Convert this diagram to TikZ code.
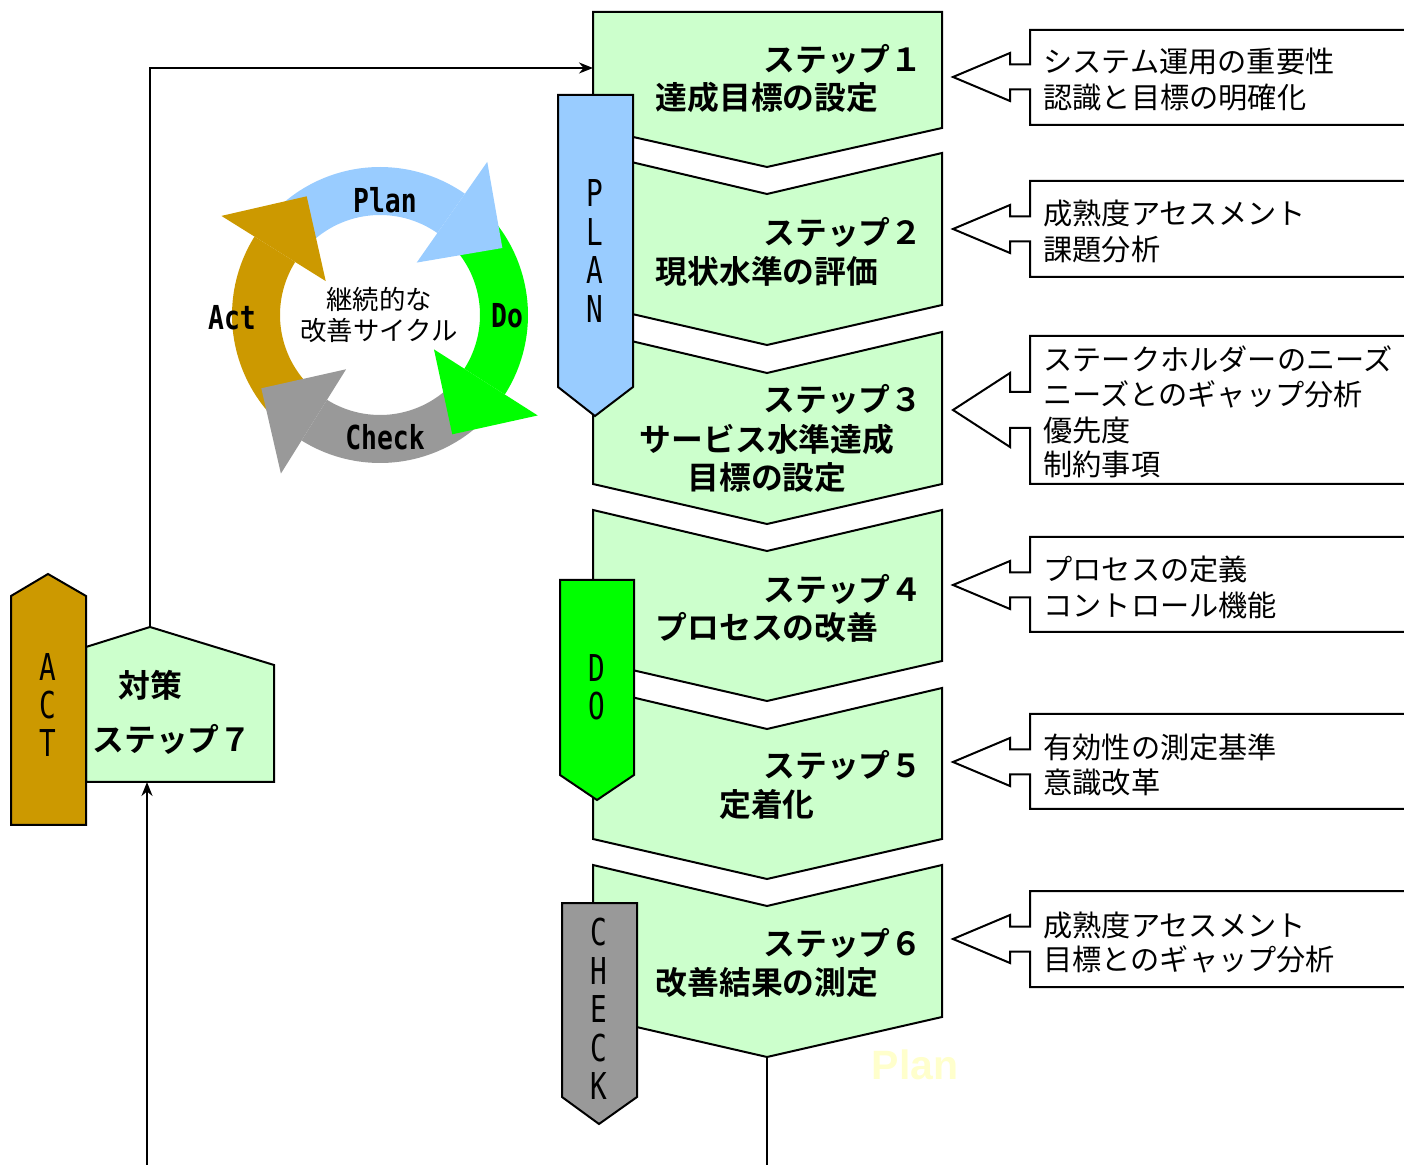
\documentclass[tikz,border=0pt]{standalone}
\usepackage{fontspec}
\setmainfont{Noto Sans CJK JP}[BoldFont={Noto Sans CJK JP Bold}]
\newfontfamily\monofnt[FakeStretch=0.75]{DejaVu Sans Mono}
\newfontfamily\monobfnt[FakeStretch=0.8]{DejaVu Sans Mono Bold}
\newfontfamily\latinfnt{Liberation Sans}
\usetikzlibrary{arrows.meta}
\definecolor{stepgreen}{HTML}{CCFFCC}
\definecolor{planblue}{HTML}{99CCFF}
\definecolor{dogreen}{HTML}{00FF00}
\definecolor{checkgray}{HTML}{999999}
\definecolor{actgold}{HTML}{CC9900}
\definecolor{faintyellow}{HTML}{FFFFCC}
\newcommand\chev[2]{\path[stepshape] (593,#1) -- (767,#1+41) -- (942,#1) -- (942,#2) -- (767,#2+40) -- (593,#2) -- cycle;}
\newcommand\callbox[5]{\path[callout] (1030,#1) -- (1420,#1) -- (1420,#2) -- (1030,#2) -- (1030,#3+#5) -- (1010,#3+#5) -- (1010,#3+#4) -- (953,#3) -- (1010,#3-#4) -- (1010,#3-#5) -- (1030,#3-#5) -- cycle;}
\newcommand\cband[3]{\fill[#1] plot[domain=#2:#3,samples=40] (\x:148) -- plot[domain=#3:#2,samples=40] (\x:100) -- cycle;}
\newcommand\chead[2]{\fill[#1] (#2:64) -- (#2:187) -- ({#2-26.3}:139.5) -- cycle;}
\begin{document}
\begin{tikzpicture}[x=0.5pt,y=-0.5pt,
  stepshape/.style={fill=stepgreen,draw=black,line width=1pt,line join=miter},
  stepline/.style={font=\fontsize{15.9}{18}\selectfont\bfseries,inner sep=0pt,anchor=base west},
  stepname/.style={font=\fontsize{15.9}{18}\selectfont\bfseries,inner sep=0pt,anchor=base},
  callout/.style={fill=white,draw=black,line width=1pt},
  ctext/.style={font=\fontsize{14.6}{17}\selectfont,inner sep=0pt,anchor=base west},
  banner/.style={draw=black,line width=1pt},
  bannertext/.style={font=\monofnt\fontsize{18.5}{19.2}\selectfont,align=center,inner sep=0pt},
  cyclabel/.style={font=\monobfnt\fontsize{16.5}{18}\selectfont,inner sep=0pt},
  cyctext/.style={font=\fontsize{13.2}{15}\selectfont,inner sep=0pt,anchor=base},
  conn/.style={draw=black,line width=1pt},
  tipped/.style={-{Stealth[length=7pt,width=5.5pt]}}]
\useasboundingbox (0,0) rectangle (1404,1165);
\clip (0,0) rectangle (1404,1165);

% coordinates for connectors
\coordinate (s1in) at (593,68);
\coordinate (s7top) at (150,627);
\coordinate (s7corner) at (150,68);
\coordinate (s7bot) at (147,782);
\coordinate (bottomL) at (147,1165);
\coordinate (s6out) at (767,1057);
\coordinate (bottomR) at (767,1165);

% connectors
\draw[conn,tipped] (s7top) -- (s7corner) -- (s1in);
\draw[conn,tipped] (bottomL) -- (s7bot);
\draw[conn] (s6out) -- (bottomR);

% step chevrons
\path[stepshape] (593,12) -- (942,12) -- (942,128) -- (767,167) -- (593,128) -- cycle;
\chev{153}{305}
\chev{332}{484}
\chev{510}{661}
\chev{688}{839}
\chev{865}{1017}
% step 7
\path[stepshape] (86,647) -- (150,627) -- (274,665) -- (274,782) -- (86,782) -- cycle;

% banners
\path[banner,fill=planblue] (558,95) -- (633,95) -- (633,387) -- (595,416) -- (558,387) -- cycle;
\path[banner,fill=dogreen] (560,580) -- (634,580) -- (634,775) -- (597,800) -- (560,775) -- cycle;
\path[banner,fill=checkgray] (562,903) -- (637,903) -- (637,1097) -- (599,1124) -- (562,1097) -- cycle;
\path[banner,fill=actgold] (48,574) -- (86,596) -- (86,825) -- (11,825) -- (11,596) -- cycle;

\node[bannertext] (plan) at (595,251) {P\\L\\A\\N};
\node[bannertext] (do) at (597,687) {D\\O};
\node[bannertext] (check) at (599,1009) {C\\H\\E\\C\\K};
\node[bannertext] (act) at (48,705) {A\\C\\T};

% callouts
\callbox{30}{125}{77}{24}{12.5}
\callbox{181}{277}{229}{24}{12.5}
\callbox{336}{484}{410}{37}{18}
\callbox{537}{632}{585}{24}{12.5}
\callbox{714}{809}{762}{24}{12.5}
\callbox{891}{987}{939}{24}{12.5}

\node[ctext] (c1a) at (1043,73) {システム運用の重要性};
\node[ctext] (c1b) at (1043,109) {認識と目標の明確化};
\node[ctext] (c2a) at (1043,225) {成熟度アセスメント};
\node[ctext] (c2b) at (1043,261) {課題分析};
\node[ctext] (c3a) at (1043,371) {ステークホルダーのニーズ};
\node[ctext] (c3b) at (1043,406) {ニーズとのギャップ分析};
\node[ctext] (c3c) at (1043,442) {優先度};
\node[ctext] (c3d) at (1043,476) {制約事項};
\node[ctext] (c4a) at (1043,581) {プロセスの定義};
\node[ctext] (c4b) at (1043,617) {コントロール機能};
\node[ctext] (c5a) at (1043,759) {有効性の測定基準};
\node[ctext] (c5b) at (1043,794) {意識改革};
\node[ctext] (c6a) at (1043,936) {成熟度アセスメント};
\node[ctext] (c6b) at (1043,971) {目標とのギャップ分析};

% step texts
\node[stepline] (s1a) at (763,71.5) {ステップ１};
\node[stepname] (s1b) at (767,109.5) {達成目標の設定};
\node[stepline] (s2a) at (763,244.5) {ステップ２};
\node[stepname] (s2b) at (767,283.5) {現状水準の評価};
\node[stepline] (s3a) at (763,411.5) {ステップ３};
\node[stepname] (s3b) at (767,451.5) {サービス水準達成};
\node[stepname] (s3c) at (767,489.5) {目標の設定};
\node[stepline] (s4a) at (763,601.5) {ステップ４};
\node[stepname] (s4b) at (767,639.5) {プロセスの改善};
\node[stepline] (s5a) at (763,777.5) {ステップ５};
\node[stepname] (s5b) at (767,816.5) {定着化};
\node[stepline] (s6a) at (763,955.5) {ステップ６};
\node[stepname] (s6b) at (767,994.5) {改善結果の測定};
\node[stepname] (s7a) at (150,697.5) {対策};
\node[stepname] (s7b) at (172,751.5) {ステップ７};

% faint label
\node[font=\latinfnt\bfseries\fontsize{20.5}{22}\selectfont,text=faintyellow,inner sep=0pt] (faint) at (915,1065) {Plan};

% cycle
\begin{scope}[shift={(380,315)},yscale=-1]
  \cband{planblue}{135}{55}
  \cband{dogreen}{42}{-32.5}
  \cband{checkgray}{-45.5}{-122}
  \cband{actgold}{-135}{-212}
  \chead{planblue}{55}
  \chead{dogreen}{-32.5}
  \chead{checkgray}{-122}
  \chead{actgold}{148}
\end{scope}
\node[cyclabel] (lplan) at (385,200) {Plan};
\node[cyclabel] (ldo) at (507,316) {Do};
\node[cyclabel] (lcheck) at (385,437) {Check};
\node[cyclabel] (lact) at (232,318) {Act};
\node[cyctext] (cyc1) at (379,310) {継続的な};
\node[cyctext] (cyc2) at (379,341) {改善サイクル};
\end{tikzpicture}
\end{document}
